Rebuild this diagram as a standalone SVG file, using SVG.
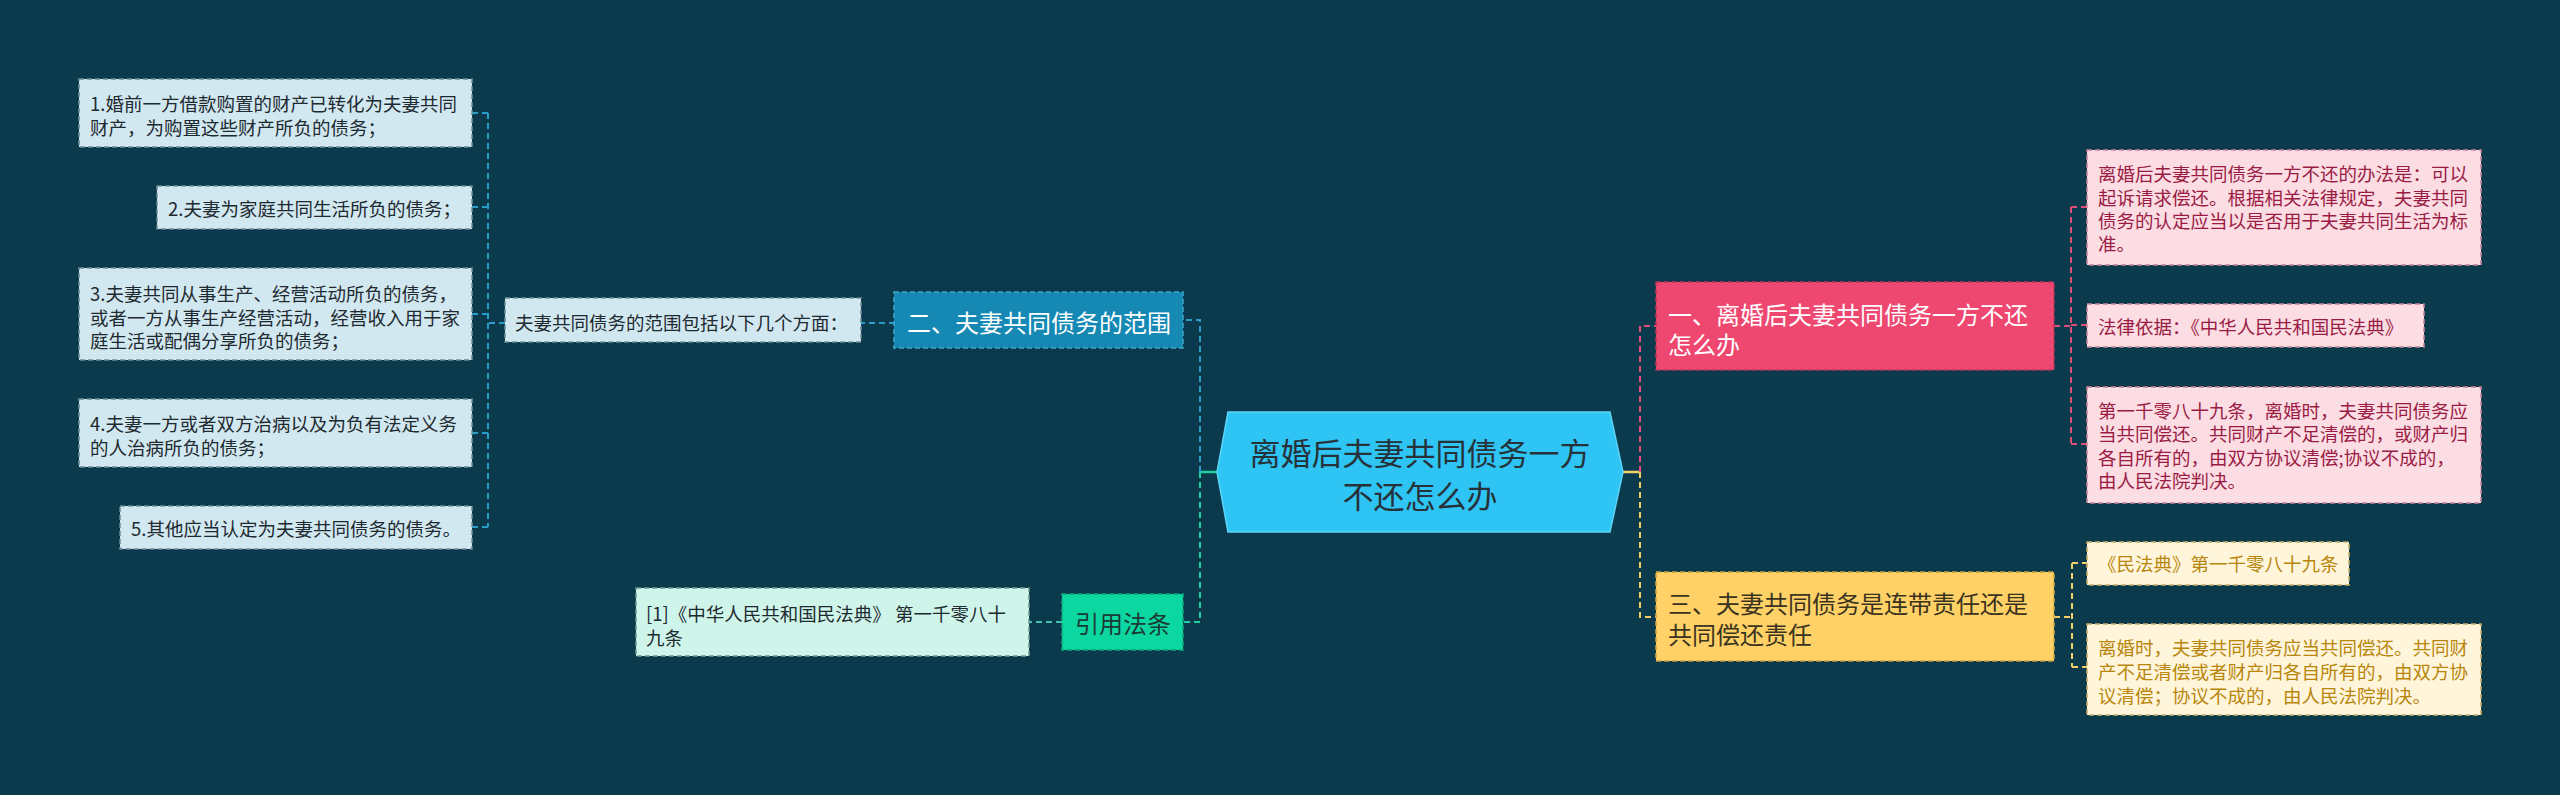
<svg xmlns="http://www.w3.org/2000/svg" width="2560" height="795" viewBox="0 0 2560 795">
<style>
text{font-family:"Noto Sans CJK SC","Noto Sans",sans-serif;dominant-baseline:central}
.c{fill:none;stroke-width:2;stroke-dasharray:6 4}
.s{fill:none;stroke-width:2.5}
.cb{stroke:#2A9CC8}.cg{stroke:#22CFA2}.cp{stroke:#DE4E78}.cy{stroke:#F2CF69}.ct{stroke:#3FC2AE}
.nb{stroke-width:1.5;stroke-dasharray:5 3}
.t18{font-size:18.5px}
.t24{font-size:24px}
.lb{fill:#D2E8F0;stroke:#6E8C98}
.lbt{fill:#1E2A30}
.pk{fill:#FCDDE3;stroke:#C9849A}
.pkt{fill:#9A1C45}
.yl{fill:#FFF5DB;stroke:#C9B06A}
.ylt{fill:#B8860B}
</style>
<rect width="2560" height="795" fill="#0A3A4C"/>
<g id="connectors">
<path class="s" stroke="#22CFA2" d="M1200 472H1217"/>
<path class="s" stroke="#F2CF69" d="M1623 472H1640"/>
<path class="c cb" d="M1200 472V320H1183"/>
<path class="c cg" d="M1200 472V622H1183"/>
<path class="c cb" d="M895 323H861"/>
<path class="c cb" d="M505 323H488M488 113V527M488 113H472M488 207H472M488 314H472M488 433H472M488 527H472"/>
<path class="c ct" d="M1062 622H1029"/>
<path class="c cp" d="M1640 472V326H1656"/>
<path class="c cy" d="M1640 472V617H1656"/>
<path class="c cp" d="M2054 326H2071M2071 207V444M2071 207H2087M2071 325H2087M2071 444H2087"/>
<path class="c cy" d="M2054 617H2072M2072 563V667M2072 563H2087M2072 667H2087"/>
</g>
<g id="center">
<polygon points="1228,412 1610,412 1623,472 1610,532 1228,532 1217,472" fill="#2EC4F4" stroke="#5CD3F7" stroke-width="1.5"/>
<text font-size="31" fill="#263238" text-anchor="middle"><tspan x="1420" y="451">离婚后夫妻共同债务一方</tspan><tspan x="1420" y="494">不还怎么办</tspan></text>
</g>
<g id="n1">
<rect x="1656" y="282" width="398" height="88" fill="#EF4870" stroke="#B8365A" class="nb"/>
<text class="t24" x="1668" y="313" fill="#FFFFFF">一、离婚后夫妻共同债务一方不还</text>
<text class="t24" x="1668" y="343" fill="#FFFFFF">怎么办</text>
</g>
<g id="n1a">
<rect class="pk nb" x="2087" y="150" width="394" height="115"/>
<text class="t18 pkt" x="2098" y="173">离婚后夫妻共同债务一方不还的办法是：可以</text>
<text class="t18 pkt" x="2098" y="197">起诉请求偿还。根据相关法律规定，夫妻共同</text>
<text class="t18 pkt" x="2098" y="220">债务的认定应当以是否用于夫妻共同生活为标</text>
<text class="t18 pkt" x="2098" y="243">准。</text>
</g>
<g id="n1b">
<rect class="pk nb" x="2087" y="304" width="337" height="43"/>
<text class="t18 pkt" x="2098" y="326">法律依据：《中华人民共和国民法典》</text>
</g>
<g id="n1c">
<rect class="pk nb" x="2087" y="387" width="394" height="116"/>
<text class="t18 pkt" x="2098" y="410">第一千零八十九条，离婚时，夫妻共同债务应</text>
<text class="t18 pkt" x="2098" y="433">当共同偿还。共同财产不足清偿的，或财产归</text>
<text class="t18 pkt" x="2098" y="457">各自所有的，由双方协议清偿;协议不成的，</text>
<text class="t18 pkt" x="2098" y="480">由人民法院判决。</text>
</g>
<g id="n3">
<rect x="1656" y="572" width="398" height="89" fill="#FFD166" stroke="#C9A447" class="nb"/>
<text class="t24" x="1668" y="602" fill="#3A3320">三、夫妻共同债务是连带责任还是</text>
<text class="t24" x="1668" y="633" fill="#3A3320">共同偿还责任</text>
</g>
<g id="n3a">
<rect class="yl nb" x="2087" y="542" width="262" height="43"/>
<text class="t18 ylt" x="2098" y="563">《民法典》第一千零八十九条</text>
</g>
<g id="n3b">
<rect class="yl nb" x="2087" y="624" width="394" height="91"/>
<text class="t18 ylt" x="2098" y="647">离婚时，夫妻共同债务应当共同偿还。共同财</text>
<text class="t18 ylt" x="2098" y="671">产不足清偿或者财产归各自所有的，由双方协</text>
<text class="t18 ylt" x="2098" y="695">议清偿；协议不成的，由人民法院判决。</text>
</g>
<g id="n2">
<rect x="894" y="292" width="289" height="56" fill="#1589B3" stroke="#3FA6CC" class="nb"/>
<text class="t24" x="907" y="321" fill="#FFFFFF">二、夫妻共同债务的范围</text>
</g>
<g id="n2s">
<rect class="lb nb" x="505" y="298" width="356" height="44"/>
<text class="t18 lbt" x="515" y="322">夫妻共同债务的范围包括以下几个方面：</text>
</g>
<g id="n2a">
<rect class="lb nb" x="79" y="79" width="393" height="68"/>
<text class="t18 lbt" x="90" y="103">1.婚前一方借款购置的财产已转化为夫妻共同</text>
<text class="t18 lbt" x="90" y="127">财产，为购置这些财产所负的债务；</text>
</g>
<g id="n2b">
<rect class="lb nb" x="157" y="186" width="315" height="43"/>
<text class="t18 lbt" x="168" y="208">2.夫妻为家庭共同生活所负的债务；</text>
</g>
<g id="n2c">
<rect class="lb nb" x="79" y="268" width="393" height="92"/>
<text class="t18 lbt" x="90" y="293">3.夫妻共同从事生产、经营活动所负的债务，</text>
<text class="t18 lbt" x="90" y="317">或者一方从事生产经营活动，经营收入用于家</text>
<text class="t18 lbt" x="90" y="340">庭生活或配偶分享所负的债务；</text>
</g>
<g id="n2d">
<rect class="lb nb" x="79" y="399" width="393" height="68"/>
<text class="t18 lbt" x="90" y="423">4.夫妻一方或者双方治病以及为负有法定义务</text>
<text class="t18 lbt" x="90" y="447">的人治病所负的债务；</text>
</g>
<g id="n2e">
<rect class="lb nb" x="120" y="506" width="352" height="43"/>
<text class="t18 lbt" x="131" y="528">5.其他应当认定为夫妻共同债务的债务。</text>
</g>
<g id="n4">
<rect x="1062" y="594" width="121" height="56" fill="#0CD7A1" stroke="#0AA87E" class="nb"/>
<text class="t24" x="1075" y="622" fill="#1B3A36">引用法条</text>
</g>
<g id="n4a">
<rect x="636" y="588" width="393" height="68" fill="#CFF5EA" stroke="#6E9A90" class="nb"/>
<text class="t18 lbt" x="646" y="613">[1]《中华人民共和国民法典》 第一千零八十</text>
<text class="t18 lbt" x="646" y="637">九条</text>
</g>
</svg>
